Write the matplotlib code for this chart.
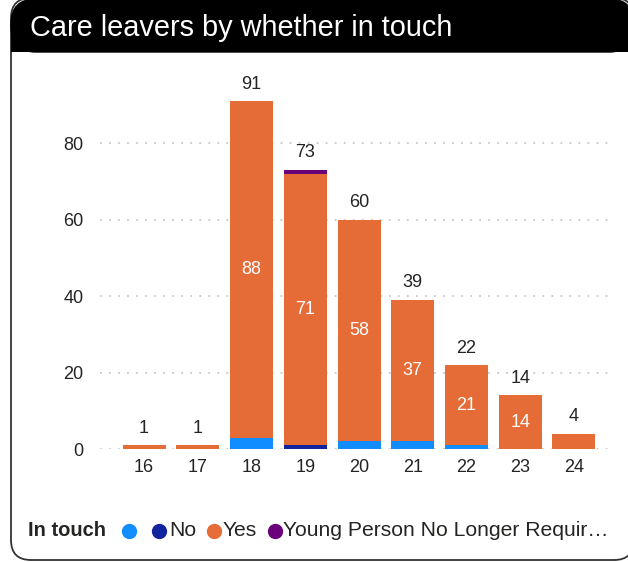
import matplotlib
matplotlib.use("Agg")
import matplotlib.pyplot as plt
from matplotlib.patches import FancyBboxPatch, Rectangle
from matplotlib.lines import Line2D

plt.rcParams['font.family'] = ['Liberation Sans', 'DejaVu Sans']

ages = ['16', '17', '18', '19', '20', '21', '22', '23', '24']
blank = [0, 0, 3, 0, 2, 2, 1, 0, 0]
no = [0, 0, 0, 1, 0, 0, 0, 0, 0]
yes = [1, 1, 88, 71, 58, 37, 21, 14, 4]
ypnlr = [0, 0, 0, 1, 0, 0, 0, 0, 0]
yticks = [0, 20, 40, 60, 80]

c_blank = '#118DFF'
c_no = '#12239E'
c_yes = '#E66C37'
c_yp = '#6B007B'
txt = '#252423'

fig = plt.figure(figsize=(6.28, 5.62), dpi=100)
W, H = 628, 562
tr = fig.dpi_scale_trans  # inches; 1 inch = 100 px


def px(v):
    return v / 100.0


# card frame (pixel coordinates converted to inches, y from bottom)
card = FancyBboxPatch((px(11), px(H - 560)), px(623), px(562),
                      boxstyle="round,pad=0,rounding_size=0.2",
                      transform=tr, facecolor='white',
                      edgecolor='#333333', linewidth=1.3, zorder=-3)
fig.patches.append(card)
hdr = FancyBboxPatch((px(11), px(H - 52)), px(623), px(53),
                     boxstyle="round,pad=0,rounding_size=0.25",
                     transform=tr, facecolor='black',
                     edgecolor='black', linewidth=1.0, zorder=-2)
fig.patches.append(hdr)
fig.patches.append(Rectangle((px(11), px(H - 52)), px(623), px(25),
                             transform=tr, facecolor='black',
                             edgecolor='none', zorder=-2))
fig.text(30 / W, 1 - 28 / H, 'Care leavers by whether in touch', color='white',
         fontsize=20.8, va='center', ha='left')

ax = fig.add_axes([100 / W, 1 - 449 / H, (610 - 100) / W, 382.5 / H])
x = list(range(len(ages)))
bw = 0.8
ax.bar(x, blank, width=bw, color=c_blank, zorder=3)
bot2 = [blank[i] for i in x]
ax.bar(x, no, width=bw, bottom=bot2, color=c_no, zorder=3)
bot3 = [blank[i] + no[i] for i in x]
ax.bar(x, yes, width=bw, bottom=bot3, color=c_yes, zorder=3)
bot4 = [blank[i] + no[i] + yes[i] for i in x]
ax.bar(x, ypnlr, width=bw, bottom=bot4, color=c_yp, zorder=3)

for i in x:
    total = blank[i] + no[i] + yes[i] + ypnlr[i]
    ax.annotate(str(total), (i, total), xytext=(0, 6), textcoords='offset points',
                ha='center', va='bottom', fontsize=13, color=txt)
    if yes[i] >= 10:
        ax.text(i, bot3[i] + yes[i] / 2, str(yes[i]), ha='center', va='center',
                fontsize=13, color='white', zorder=4)

ax.set_xlim(-0.82, 8.67)
ax.set_ylim(0, 100)
ax.set_yticks(yticks)
ax.set_xticks(x)
ax.set_xticklabels(ages)
ax.tick_params(axis='both', length=0, labelsize=13, colors=txt)
ax.tick_params(axis='y', pad=12)
ax.tick_params(axis='x', pad=7)
for s in ax.spines.values():
    s.set_visible(False)
ax.yaxis.grid(True, linestyle=(0, (1, 4)), color='#c8c8c8', linewidth=1.3, zorder=0)
ax.set_axisbelow(True)
ax.patch.set_alpha(0)

# legend
ly = 1 - 531 / H
fig.text(28 / W, ly, 'In touch', fontsize=14.5, fontweight='bold', va='center', ha='left',
         color=txt)
items = [(129, c_blank, '', None), (159, c_no, 'No', 169), (214, c_yes, 'Yes', 223),
         (275, c_yp, 'Young Person No Longer Requir…', 283)]
for mx, col, lab, tx in items:
    fig.add_artist(Line2D([mx / W], [ly], marker='o', markersize=10, color=col,
                          linestyle='none', transform=fig.transFigure))
    if lab:
        fig.text(tx / W, ly, lab, fontsize=15.2, va='center', ha='left', color=txt)

fig.savefig('out.png', dpi=100)
